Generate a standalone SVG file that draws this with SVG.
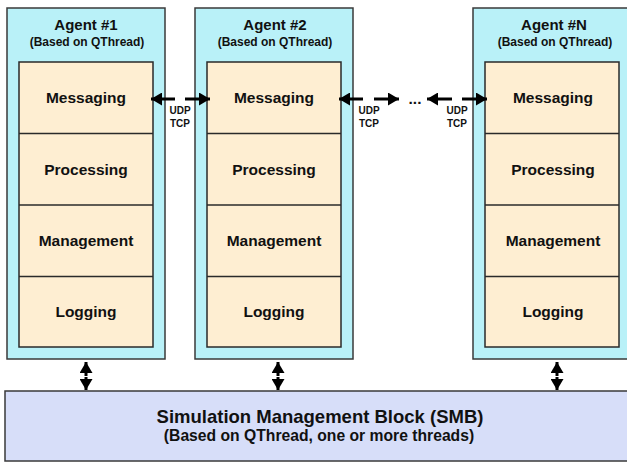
<svg xmlns="http://www.w3.org/2000/svg" width="627" height="462" viewBox="0 0 627 462">
<defs>
<style>
.outer{fill:#b9f1f8;stroke:#3a3a3a;stroke-width:1.5}
.inner{fill:#feeed2;stroke:#2a2a2a;stroke-width:1.5}
.smb{fill:#d7def9;stroke:#3a3a3a;stroke-width:1.5}
.div{stroke:#2a2a2a;stroke-width:1.5}
text{font-family:"Liberation Sans",Arial,sans-serif;font-weight:bold;fill:#111;text-anchor:middle}
.t1{font-size:15px}
.t2{font-size:12px}
.sec{font-size:15.5px}
.proto{font-size:10px}
.big{font-size:18.5px}
.sub{font-size:15.7px}
.arr{stroke:#000;stroke-width:3;fill:none}
</style>
<marker id="ah" markerUnits="userSpaceOnUse" markerWidth="13" markerHeight="13" refX="11" refY="6.5" orient="auto">
<path d="M0,0 L11,6.5 L0,13 Z" fill="#000"/>
</marker>
</defs>

<g id="agent1">
<rect class="outer" x="7" y="8" width="158" height="351"/>
<text class="t1" x="86" y="30">Agent #1</text>
<text class="t2" x="87" y="46">(Based on QThread)</text>
<rect class="inner" x="19" y="62" width="134" height="285"/>
<line class="div" x1="19" y1="133.5" x2="153" y2="133.5"/>
<line class="div" x1="19" y1="205" x2="153" y2="205"/>
<line class="div" x1="19" y1="276.5" x2="153" y2="276.5"/>
<text class="sec" x="86" y="103">Messaging</text>
<text class="sec" x="86" y="175">Processing</text>
<text class="sec" x="86" y="246">Management</text>
<text class="sec" x="86" y="317">Logging</text>
</g>

<g id="agent2">
<rect class="outer" x="195" y="8" width="158" height="351"/>
<text class="t1" x="275" y="30">Agent #2</text>
<text class="t2" x="275" y="46">(Based on QThread)</text>
<rect class="inner" x="207" y="62" width="134" height="285"/>
<line class="div" x1="207" y1="133.5" x2="341" y2="133.5"/>
<line class="div" x1="207" y1="205" x2="341" y2="205"/>
<line class="div" x1="207" y1="276.5" x2="341" y2="276.5"/>
<text class="sec" x="274" y="103">Messaging</text>
<text class="sec" x="274" y="175">Processing</text>
<text class="sec" x="274" y="246">Management</text>
<text class="sec" x="274" y="317">Logging</text>
</g>

<g id="agentN">
<rect class="outer" x="473" y="8" width="162" height="351"/>
<text class="t1" x="554" y="30">Agent #N</text>
<text class="t2" x="555" y="46">(Based on QThread)</text>
<rect class="inner" x="485" y="62" width="134" height="285"/>
<line class="div" x1="485" y1="133.5" x2="619" y2="133.5"/>
<line class="div" x1="485" y1="205" x2="619" y2="205"/>
<line class="div" x1="485" y1="276.5" x2="619" y2="276.5"/>
<text class="sec" x="553" y="103">Messaging</text>
<text class="sec" x="553" y="175">Processing</text>
<text class="sec" x="553" y="246">Management</text>
<text class="sec" x="553" y="317">Logging</text>
</g>

<g id="smb">
<rect class="smb" x="5" y="391" width="632" height="70"/>
<text class="big" x="320" y="423">Simulation Management Block (SMB)</text>
<text class="sub" x="319" y="441">(Based on QThread, one or more threads)</text>
</g>

<g id="connectors">
<path class="arr" d="M175,99 H151" marker-end="url(#ah)"/>
<path class="arr" d="M185,99 H210" marker-end="url(#ah)"/>
<text class="proto" x="180" y="114">UDP</text>
<text class="proto" x="180" y="127">TCP</text>
<path class="arr" d="M363,99 H339" marker-end="url(#ah)"/>
<path class="arr" d="M374,99 H399" marker-end="url(#ah)"/>
<text class="proto" x="369" y="114">UDP</text>
<text class="proto" x="369" y="127">TCP</text>
<text class="sec" x="415" y="104">...</text>
<path class="arr" d="M452,99 H427" marker-end="url(#ah)"/>
<path class="arr" d="M462,99 H487" marker-end="url(#ah)"/>
<text class="proto" x="457" y="114">UDP</text>
<text class="proto" x="457" y="127">TCP</text>
<path class="arr" d="M86,376 V362" marker-end="url(#ah)"/>
<path class="arr" d="M86,377 V390" marker-end="url(#ah)"/>
<path class="arr" d="M278,376 V362" marker-end="url(#ah)"/>
<path class="arr" d="M278,377 V390" marker-end="url(#ah)"/>
<path class="arr" d="M557,376 V362" marker-end="url(#ah)"/>
<path class="arr" d="M557,377 V390" marker-end="url(#ah)"/>
</g>
</svg>
